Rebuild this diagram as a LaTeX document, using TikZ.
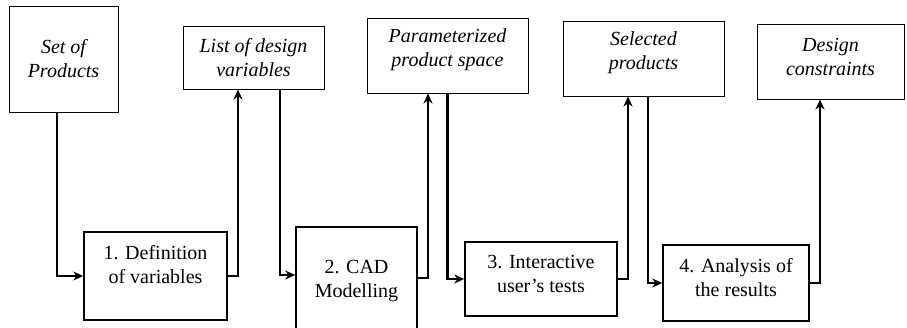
\documentclass[tikz,border=0pt]{standalone}
\usepackage{fontspec}
\setmainfont{Liberation Serif}
\usetikzlibrary{arrows.meta}

\begin{document}
\begin{tikzpicture}[x=1pt,y=-1pt]
        \tikzstyle{every node}=[font=\fontsize{20}{24}\selectfont, align=center]
        \tikzstyle{output}=[draw, line width=1pt, font=\fontsize{20}{24}\selectfont\itshape]
        \tikzstyle{phase}=[draw, line width=1.5pt]
        \tikzstyle{flow}=[line width=2.2pt, -{Stealth[length=10pt,width=9pt]}]

        \useasboundingbox (0,0) rectangle (907,327);
        \clip (0,0) rectangle (907,327);

        \node[output, minimum width=109pt, minimum height=106pt] (products) at (63.5,59) {Set of\\Products};
        \node[output, minimum width=141pt, minimum height=63pt] (variables) at (253.5,57.5) {List of design\\variables};
        \node[output, minimum width=161pt, minimum height=75pt, text depth=15pt] (space) at (447.5,55.5) {Parameterized\\product space};
        \node[output, minimum width=161pt, minimum height=75pt, text depth=16pt] (selected) at (643.5,58.5) {Selected\\products};
        \node[output, minimum width=147pt, minimum height=75pt, text depth=10pt] (constraints) at (830.5,61.5) {Design\\constraints};

        \node[phase, minimum width=143pt, minimum height=88pt, text depth=24pt] (def) at (155.5,276) {1. Definition\\of variables};
        \node[phase, minimum width=121pt, minimum height=109pt] (cad) at (356.5,281.5) {2. CAD\\Modelling};
        \node[phase, minimum width=152pt, minimum height=74pt, text depth=11pt] (tests) at (541,279) {3. Interactive\\user’s tests};
        \node[phase, minimum width=146pt, minimum height=76pt, text depth=12pt] (results) at (736,283) {4. Analysis of\\the results};

        \draw[flow] ([xshift=-6.5pt]products.south) |- (def.west);
        \draw[flow] (def.east) -| ([xshift=-15.5pt]variables.south);
        \draw[flow] ([xshift=26.5pt]variables.south) |- ([yshift=6.5pt]cad.west);
        \draw[flow] ([yshift=3.5pt]cad.east) -| ([xshift=-19.5pt]space.south);
        \draw[flow] (space.south) |- (tests.west);
        \draw[flow] (tests.east) -| ([xshift=-15.5pt]selected.south);
        \draw[flow] ([xshift=4.5pt]selected.south) |- (results.west);
        \draw[flow] (results.east) -| ([xshift=-10.5pt]constraints.south);

    \end{tikzpicture}
\end{document}
